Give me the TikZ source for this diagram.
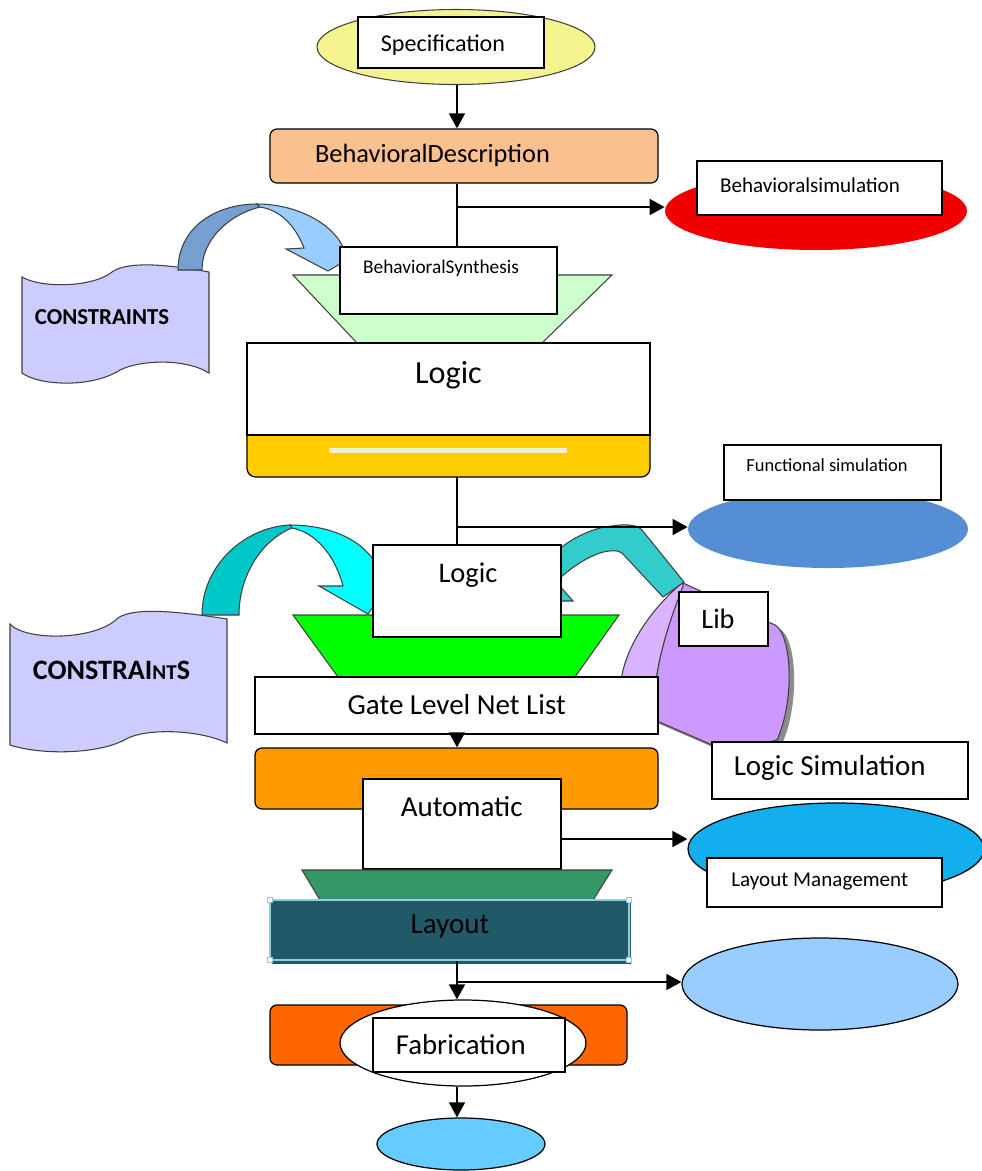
\documentclass[tikz,border=0pt]{standalone}
\usepackage{fontspec}
\setmainfont{Carlito}
\usetikzlibrary{arrows.meta,shapes.geometric}
\newcommand\fs[1]{\fontsize{#1}{#1}\selectfont}
\definecolor{specyellow}{HTML}{F4F48E}
\definecolor{descpeach}{HTML}{FAC090}
\definecolor{simred}{HTML}{F20000}
\definecolor{conslav}{HTML}{CCCCFF}
\definecolor{arrdark}{HTML}{76A0CF}
\definecolor{arrlight}{HTML}{99CCFF}
\definecolor{synthgreen}{HTML}{CCFFCC}
\definecolor{logicyellow}{HTML}{FFCC00}
\definecolor{stripe}{HTML}{F2EFD9}
\definecolor{funcblue}{HTML}{558ED5}
\definecolor{cyandark}{HTML}{00C8C8}
\definecolor{cyanlight}{HTML}{00FFFF}
\definecolor{libteal}{HTML}{33CCCC}
\definecolor{gategreen}{HTML}{00FF00}
\definecolor{liblight}{HTML}{D9B3FF}
\definecolor{libmain}{HTML}{CC99FF}
\definecolor{autoorange}{HTML}{FF9900}
\definecolor{mgmtblue}{HTML}{12AEEE}
\definecolor{layoutgreen}{HTML}{339966}
\definecolor{layoutfill}{HTML}{215968}
\definecolor{layoutline}{HTML}{93CDDD}
\definecolor{skyblue}{HTML}{99CCFF}
\definecolor{faborange}{HTML}{FF6600}
\definecolor{endblue}{HTML}{66CCFF}
\begin{document}
\begin{tikzpicture}[x=0.02cm,y=-0.02cm,
  wh/.style 2 args={minimum width=#1*0.02cm,minimum height=#2*0.02cm},
  box/.style={draw=black,line width=0.7pt,fill=white,inner sep=0pt},
  rbox/.style={box,rounded corners=4pt},
  ell/.style={ellipse,inner sep=0pt},
  lbl/.style={inner sep=0pt},
  outl/.style={draw=black!75,line width=0.6pt},
  conn/.style={line width=1.1pt},
  arr/.style={conn,-{Triangle[length=8.5pt,width=9pt]}}]
\fill[white] (0,0) rectangle (982,1171);
\useasboundingbox (0,0) rectangle (982,1171);
\coordinate (sp) at (457,0);
%first constraints with curved arrow
\draw[outl,fill=conslav] (22,277) .. controls (40,288) and (92,288) .. (112,272) .. controls (126,262) and (160,263) .. (209,272)
  -- (209,373) .. controls (185,358) and (140,360) .. (120,370) .. controls (92,388) and (40,386) .. (22,373) -- cycle;
\node[lbl,font=\fs{13}\bfseries] (cons1-t) at (102,317) {CONSTRAINTS};
\draw[outl,fill=arrdark] (178,270) .. controls (178,228) and (215,204) .. (257,204) -- (260,207) .. controls (228,215) and (202,240) .. (202,270) -- cycle;
\draw[outl,fill=arrlight] (257,204) .. controls (295,204) and (330,222) .. (342,245) -- (350,258) -- (328,271) -- (286,249) -- (304,248) .. controls (295,225) and (280,210) .. (260,207) -- cycle;
%behavioral synthesis
\draw[outl,fill=synthgreen] (293,275) -- (612,275) -- (542,343) -- (357,343) -- cycle;
\node[box,wh={217}{67}] (bsynbox) at (448.5,280.5) {};
\node[lbl,font=\fs{11}] (bsyn-t) at (441,268) {BehavioralSynthesis};
%specification and description
\node[ell,fill=specyellow,outl,wh={278}{75}] (specell) at (456,47) {};
\node[box,wh={186}{51}] (specbox) at (451,42.5) {};
\node[lbl,font=\fs{13.7}] (spec-t) at (443,45) {Specification};
\node[rbox,fill=descpeach,wh={388}{54}] (bdbox) at (464,156) {};
\node[lbl,font=\fs{15}] (bd-t) at (432.5,155) {BehavioralDescription};
\node[ell,fill=simred,wh={302}{78}] (bsimell) at (816,211) {};
\node[box,wh={245}{54}] (bsimbox) at (819.5,188) {};
\node[lbl,font=\fs{12}] (bsim-t) at (810,185) {Behavioralsimulation};
%logic block
\draw[box,fill=logicyellow,rounded corners=5pt] (247,435) -- (247,477) -- (650,477) -- (650,435);
\coordinate (logic-s) at (448.5,477);
\fill[stripe] (329,448) rectangle (567,453);
\node[box,wh={403}{92}] (logictop) at (448.5,389) {};
\node[lbl,font=\fs{18.3}] (logic1-t) at (448.5,375) {Logic};
\node[ell,fill=funcblue,wh={280}{78}] (funcell) at (828,529) {};
\node[box,wh={217}{55}] (funcbox) at (832.5,472.5) {};
\node[lbl,font=\fs{10.5}] (func-t) at (827,465) {Functional simulation};
%second constraints with curved arrow
\draw[outl,fill=conslav] (10,624) .. controls (25,641) and (95,641) .. (118,618) .. controls (132,608) and (170,610) .. (227,619)
  -- (227,743) .. controls (200,730) and (150,728) .. (128,738) .. controls (100,755) and (40,755) .. (10,745) -- cycle;
\node[lbl,font=\fs{16}\bfseries] (cons2-t) at (111.5,670) {CONSTRAI{\fs{12}NT}S};
\draw[outl,fill=cyandark] (202,615) .. controls (202,565) and (245,527) .. (290,525) -- (292,528) .. controls (262,540) and (239,575) .. (239,615) -- cycle;
\draw[outl,fill=cyanlight] (290,525) .. controls (330,525) and (365,540) .. (378,568) -- (385,590) -- (368,614) -- (319,586) -- (343,586) .. controls (335,555) and (315,532) .. (292,528) -- cycle;
\draw[outl,fill=gategreen] (293,615) -- (619,615) -- (575,677) -- (338,677) -- cycle;
%library
\fill[black!45] (688,587) -- (780,629) .. controls (797,639) and (800,704) .. (782,744) .. controls (765,749) and (725,749) .. (715,748) -- (655,722) -- cycle;
\draw[outl,fill=libmain] (683,583) -- (775,625) .. controls (792,635) and (795,700) .. (777,740) .. controls (760,745) and (720,745) .. (710,744) -- (650,718) -- (655,690) .. controls (658,655) and (670,620) .. (683,583) -- cycle;
\draw[outl,fill=liblight] (683,582) .. controls (650,610) and (622,650) .. (620,690) -- (655,690) .. controls (658,655) and (670,620) .. (683,586) -- cycle;
\draw[outl,fill=libteal] (684,582) -- (642,530) .. controls (635,522) and (615,525) .. (600,528) .. controls (585,532) and (570,540) .. (558,550)
  -- (558,580) .. controls (568,570) and (585,558) .. (600,553) .. controls (610,550) and (618,550) .. (622,553) -- (663,597) -- cycle;
\draw[outl,fill=libteal] (558,584) -- (573,601) -- (558,601) -- cycle;
\node[box,wh={188}{92}] (logic2box) at (467,591) {};
\node[lbl,font=\fs{16.2}] (logic2-t) at (468,575) {Logic};
\node[box,wh={89}{54}] (libbox) at (723.5,619) {};
\node[lbl,font=\fs{16}] (lib-t) at (718,619) {Lib};
\node[box,wh={403}{57}] (gatebox) at (456.5,705.5) {};
\node[lbl,font=\fs{16.5}] (gate-t) at (456.7,705) {Gate Level Net List};
%place and route
\node[rbox,fill=autoorange,wh={403}{61}] (orangebox) at (456.5,778.5) {};
\node[box,wh={198}{90}] (autobox) at (462,824) {};
\node[lbl,font=\fs{16.5}] (auto-t) at (461.7,807) {Automatic};
\node[box,wh={256}{57}] (logsimbox) at (840,770.5) {};
\node[lbl,font=\fs{16.5}] (logsim-t) at (829.7,768) {Logic Simulation};
\node[ell,draw=black,line width=0.7pt,fill=mgmtblue,wh={296}{92}] (laymgell) at (836,849) {};
\node[box,wh={235}{49}] (laymgbox) at (824.5,882.5) {};
\node[lbl,font=\fs{12}] (laymg-t) at (819.7,882) {Layout Management};
\draw[outl,fill=layoutgreen] (302,870) -- (612,870) -- (590,905) -- (323,905) -- cycle;
\fill[layoutfill] (272,903) rectangle (631,964);
\node[draw=layoutline,line width=1.5pt,fill=layoutfill,inner sep=0pt,wh={359}{60}] (layoutbox) at (449.5,930) {};
\foreach \hx/\hy in {270/900,629/900,270/960,629/960}
  \draw[layoutline,line width=0.8pt,fill=white] (\hx-2.5,\hy-2.5) rectangle (\hx+2.5,\hy+2.5);
\node[lbl,font=\fs{16.5}] (layout-t) at (450,927) {Layout};
%fabrication
\node[ell,draw=black,line width=0.7pt,fill=skyblue,wh={276}{92}] (rightell) at (820,984) {};
\node[rbox,fill=faborange,wh={357}{60}] (fabbox) at (448.5,1035) {};
\node[ell,draw=black,line width=0.7pt,fill=white,wh={246}{86}] (fabell) at (463,1043) {};
\node[box,wh={192}{54}] (fabwbox) at (469,1045) {};
\node[lbl,font=\fs{16.4}] (fab-t) at (460.8,1045) {Fabrication};
\node[ell,draw=black,line width=0.7pt,fill=endblue,wh={168}{52}] (smallell) at (461,1144) {};
%connectors
\coordinate (br1) at (457,207);
\coordinate (br2) at (457,527);
\coordinate (autoout) at (561,839);
\coordinate (br3) at (457,982);
\draw[arr] (specell.south -| sp) -- (bdbox.north -| sp);
\draw[conn] (bdbox.south -| sp) -- (bsynbox.north -| sp);
\draw[arr] (br1) -- (br1 -| bsimell.west);
\draw[conn] (logic-s -| sp) -- (logic2box.north -| sp);
\draw[arr] (br2) -- (br2 -| funcell.west);
\draw[arr] (gatebox.south -| sp) -- (orangebox.north -| sp);
\draw[arr] (autoout) -- (autoout -| laymgell.west);
\draw[arr] (layoutbox.south -| sp) -- (fabell.north -| sp);
\draw[arr] (br3) -- (br3 -| rightell.west);
\draw[arr] (fabell.south -| sp) -- (smallell.north -| sp);
\end{tikzpicture}
\end{document}
